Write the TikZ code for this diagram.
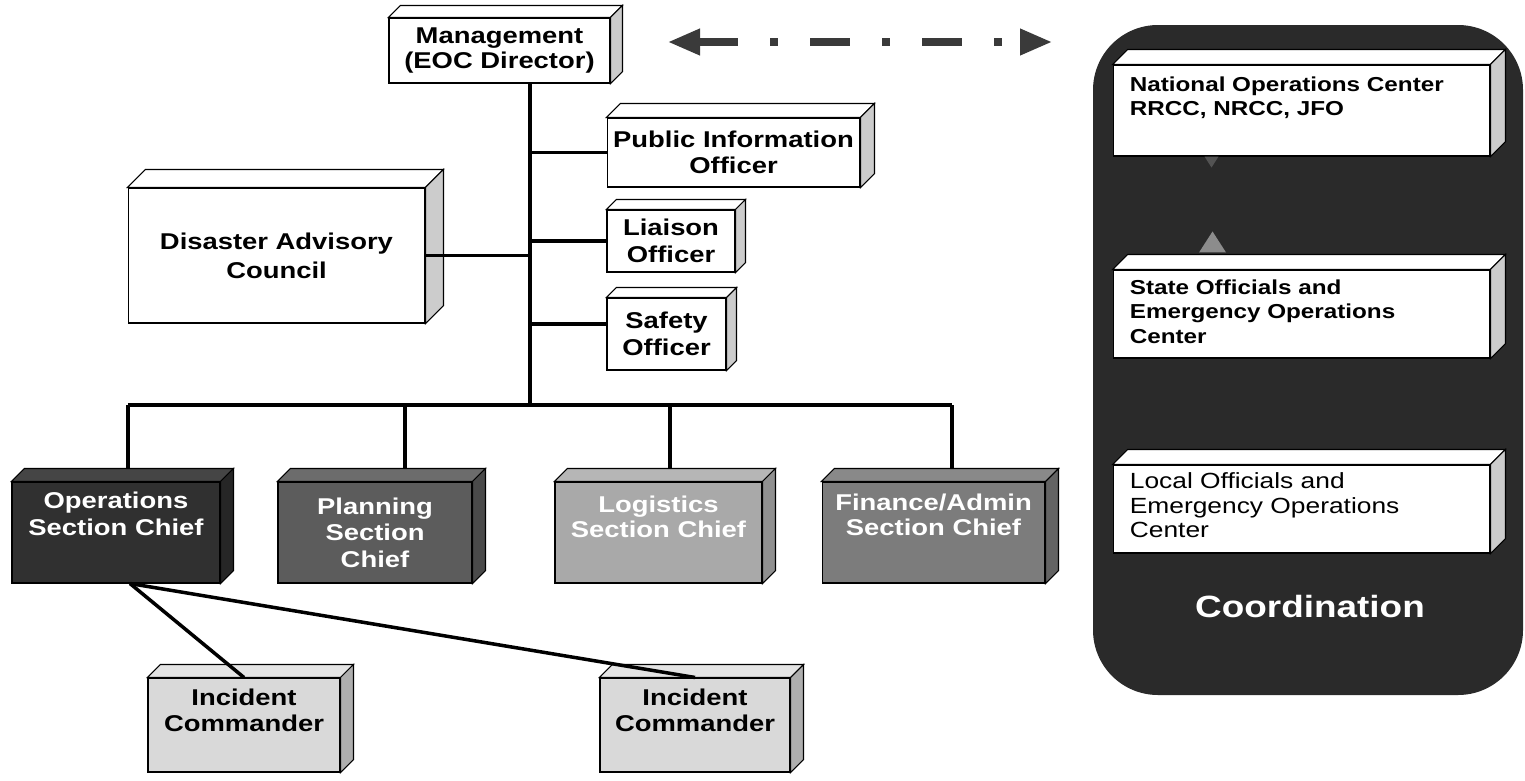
\documentclass[tikz,border=0pt]{standalone}
\usepackage{fontspec}
\setmainfont{Liberation Sans}[FakeStretch=1.2]
\usetikzlibrary{positioning,arrows.meta,backgrounds}
\definecolor{opsfill}{HTML}{303030}
\definecolor{planfill}{HTML}{5C5C5C}
\definecolor{logfill}{HTML}{A9A9A9}
\definecolor{finfill}{HTML}{7C7C7C}
\definecolor{icfill}{HTML}{D9D9D9}
\definecolor{sidegray}{HTML}{CCCCCC}
\definecolor{panelfill}{HTML}{2A2A2A}
\definecolor{linkgray}{HTML}{3A3A3A}
\definecolor{tipgray}{HTML}{8C8C8C}

% top and right faces of a 3D box: node, depth, top fill, side fill
\newcommand{\extrude}[4]{%
  \filldraw[draw=black, line width=0.6pt, fill=#3] (#1.north west) -- ++(#2,-#2)
    -- ([shift={(#2,-#2)}]#1.north east) -- (#1.north east) -- cycle;
  \filldraw[draw=black, line width=0.6pt, fill=#4] (#1.north east) -- ++(#2,-#2)
    -- ([shift={(#2,-#2)}]#1.south east) -- (#1.south east) -- cycle;
}

\begin{document}
\begin{tikzpicture}[
        x=0.02cm, y=-0.02cm,
        chart/.style={
            rectangle,
            draw=black,
            line width=0.6pt,
            fill=white,
            align=center,
            inner sep=0pt,
            font=\fontsize{13}{15}\selectfont\bfseries
        },
        section/.style={
            chart,
            text=white,
            minimum height=2.02cm
        },
        panelbox/.style={
            rectangle,
            draw=black,
            line width=0.6pt,
            fill=white,
            inner sep=0pt,
            minimum width=7.54cm
        },
        paneltext/.style={
            align=left,
            inner sep=0pt,
            font=\fontsize{11.5}{13.9}\selectfont\bfseries
        },
        link/.style={
            line width=2pt,
            draw=black
        },
        linkarrow/.style={
            {Triangle[length=0.64cm, width=0.5cm]}-{Triangle[length=0.64cm, width=0.5cm]},
            line width=4pt,
            color=linkgray,
            dash pattern=on 0.8cm off 0.64cm on 0.16cm off 0.64cm
        }
    ]
        \useasboundingbox (0,0) rectangle (1525,781);

        % Coordination panel
        \fill[panelfill, rounded corners=1.3cm] (1093,25) rectangle (1523,695);
        \node[panelbox, minimum height=1.82cm] (noc) at (1301.5,110.5) {};
        \node[panelbox, minimum height=1.76cm] (state) at (1301.5,314) {};
        \node[panelbox, minimum height=1.76cm] (local) at (1301.5,509) {};
        \extrude{noc}{15}{white}{sidegray}
        \extrude{state}{15}{white}{sidegray}
        \extrude{local}{15}{white}{sidegray}
        \node[paneltext, below right=0.24cm and 0.34cm of noc.north west] (noc-text)
            {National Operations Center\\RRCC, NRCC, JFO};
        \node[paneltext, below right=0.2cm and 0.34cm of state.north west] (state-text)
            {State Officials and\\Emergency Operations\\Center};
        \node[paneltext, font=\fontsize{12.5}{13.9}\selectfont, below right=0.16cm and 0.34cm of local.north west] (local-text)
            {Local Officials and\\Emergency Operations\\Center};
        \node[text=white, inner sep=0pt, font=\fontsize{17.5}{20}\selectfont\bfseries] (coord) at (1310,607) {Coordination};
        \coordinate (noc-tip) at ([xshift=-1.8cm]noc.south);
        \coordinate (state-tip) at ([xshift=-1.78cm, yshift=0.34cm]state.north);
        \fill[linkgray!70!tipgray] ([xshift=-0.14cm]noc-tip) -- ([xshift=0.14cm]noc-tip) -- ([yshift=-0.22cm]noc-tip) -- cycle;
        \fill[tipgray] ([xshift=-0.27cm]state-tip) -- ([xshift=0.27cm]state-tip) -- ([yshift=0.42cm]state-tip) -- cycle;

        % Command staff
        \node[chart, minimum width=4.42cm, minimum height=1.3cm] (mgmt) at (499.5,50.5)
            {Management\\[-1pt](EOC Director)};
        \node[chart, minimum width=5.06cm, minimum height=1.38cm] (pio) at (733.5,152.5)
            {Public Information\\Officer};
        \node[chart, minimum width=2.56cm, minimum height=1.24cm] (liaison) at (671,241)
            {Liaison\\Officer};
        \node[chart, minimum width=2.38cm, minimum height=1.44cm] (safety) at (666.5,334)
            {Safety\\Officer};
        \node[chart, minimum width=5.94cm, minimum height=2.7cm] (dac) at (276.5,255.5)
            {Disaster Advisory\\[1.5pt]Council};
        \extrude{mgmt}{12}{white}{sidegray}
        \extrude{pio}{14}{white}{sidegray}
        \extrude{liaison}{10}{white}{sidegray}
        \extrude{safety}{10}{white}{sidegray}
        \extrude{dac}{18}{white}{sidegray}

        % General staff
        \node[section, fill=opsfill, minimum width=4.16cm] (ops) at (116,532.5)
            {Operations\\Section Chief\\[6.5pt]\mbox{}};
        \node[section, fill=planfill, minimum width=3.88cm] (plan) at (375,532.5)
            {Planning\\Section\\Chief};
        \node[section, fill=logfill, minimum width=4.14cm] (log) at (658.5,532.5)
            {Logistics\\[-1pt]Section Chief\\[3pt]\mbox{}};
        \node[section, fill=finfill, minimum width=4.46cm] (fin) at (933.5,532.5)
            {Finance/Admin\\[-1pt]Section Chief\\[5pt]\mbox{}};
        \extrude{ops}{13}{opsfill!90!white}{opsfill!80!black}
        \extrude{plan}{13}{planfill!90!white}{planfill!80!black}
        \extrude{log}{13}{logfill!85!white}{logfill!85!black}
        \extrude{fin}{13}{finfill!90!white}{finfill!80!black}

        % Incident commanders
        \node[chart, fill=icfill, minimum width=3.84cm, minimum height=1.88cm] (ic1) at (244,725)
            {Incident\\Commander\\[2pt]\mbox{}};
        \node[chart, fill=icfill, minimum width=3.8cm, minimum height=1.88cm] (ic2) at (695,725)
            {Incident\\Commander\\[2pt]\mbox{}};
        \extrude{ic1}{13}{icfill!70!white}{icfill!80!black}
        \extrude{ic2}{13}{icfill!70!white}{icfill!80!black}

        % Lines behind the boxes
        \coordinate (hub) at (530,405);
        \coordinate (safety-in) at ([yshift=0.2cm]safety.west);
        \begin{scope}[on background layer]
            \draw[link] (hub |- mgmt.south) -- (hub);
            \draw[link] (pio.west) -- (pio.west -| hub);
            \draw[link] (liaison.west) -- (liaison.west -| hub);
            \draw[link] (safety-in) -- (safety-in -| hub);
            \foreach \n/\dx in {ops/0.24, plan/0.6, log/0.23, fin/0.37}{
                \coordinate (\n-in) at ([xshift=\dx cm]\n.north);
                \draw[link] (\n-in) -- (\n-in |- hub);
            }
            \draw[link] (ops-in |- hub) -- (fin-in |- hub);
        \end{scope}

        % Lines over the boxes
        \draw[link] (dac.east) -- (dac.east -| hub);
        \coordinate (ops-out) at ([xshift=0.28cm]ops.south);
        \draw[link] (ops-out) -- (ic1.north);
        \draw[link] (ops-out) -- (ic2.north);

        % Link to the coordination panel
        \coordinate (lnk-l) at (668,42);
        \coordinate (lnk-r) at (1052,42);
        \draw[linkarrow] (lnk-l) -- (lnk-r);
    \end{tikzpicture}
\end{document}
